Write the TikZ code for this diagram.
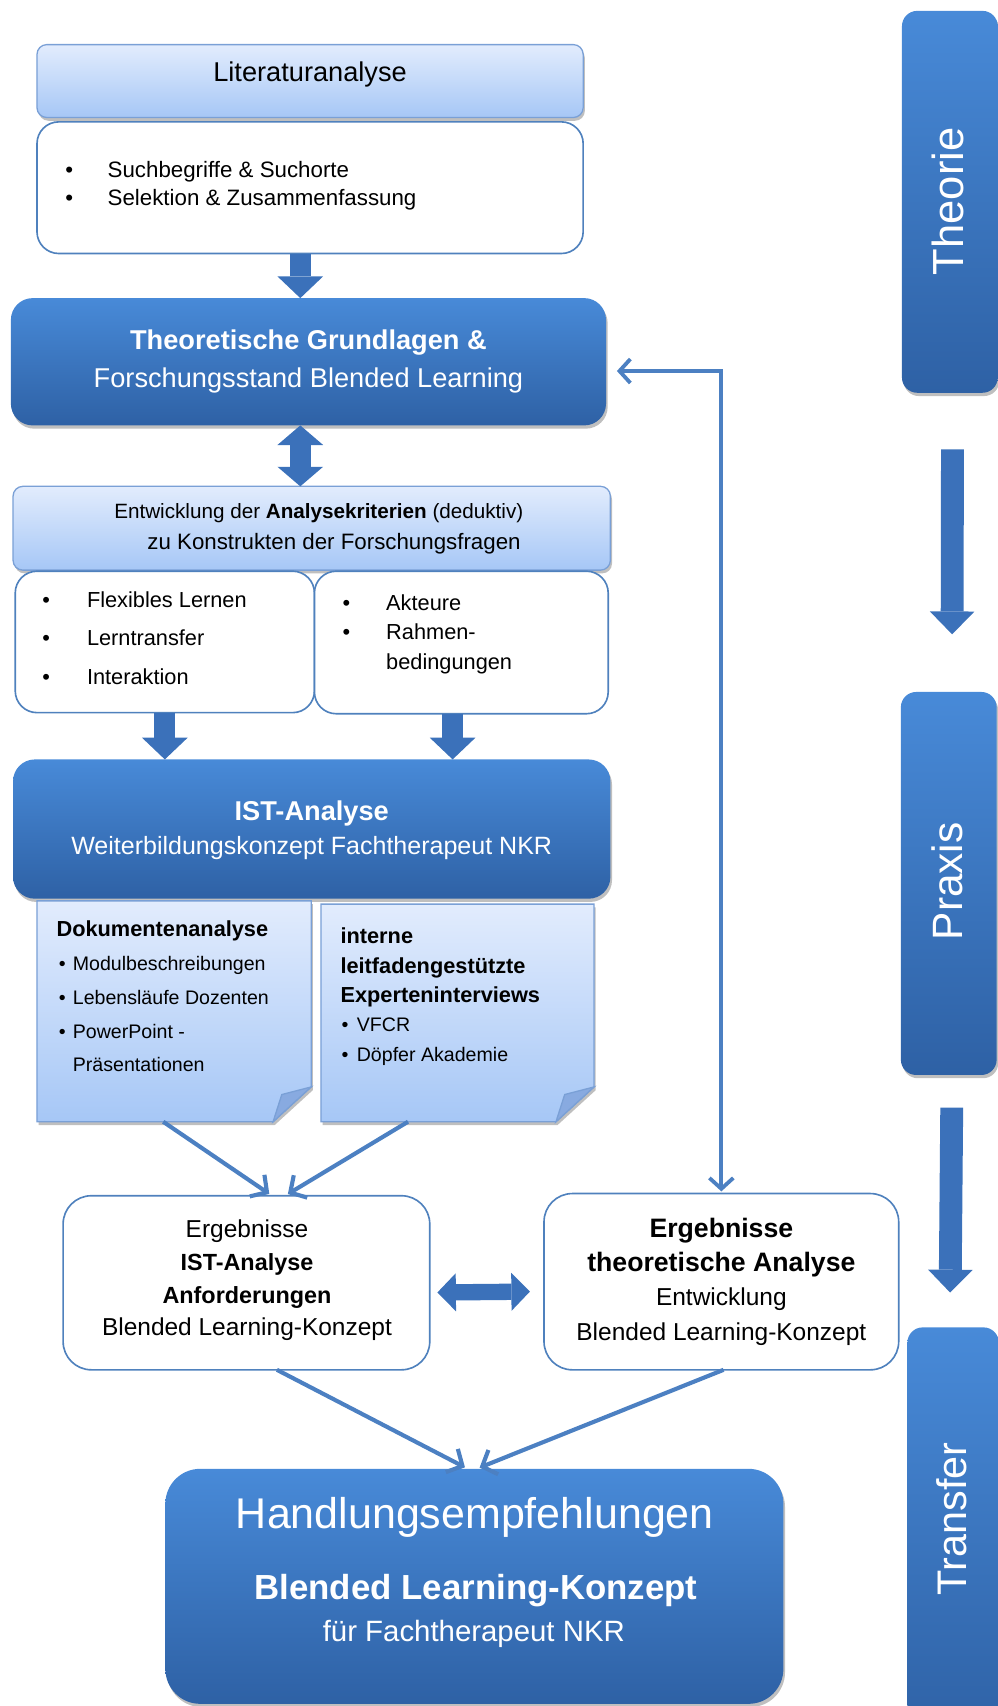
\documentclass[tikz,border=0pt]{standalone}
\usepackage{fontspec}
\setmainfont{Liberation Sans}
\usetikzlibrary{arrows.meta,calc,shadows}

\definecolor{darktop}{RGB}{72,138,216}
\definecolor{darkbot}{RGB}{46,97,165}
\definecolor{lighttop}{RGB}{226,236,253}
\definecolor{lightbot}{RGB}{166,199,246}
\definecolor{lightline}{RGB}{122,160,214}
\definecolor{whiteline}{RGB}{79,129,189}
\definecolor{arrowblue}{RGB}{59,113,186}
\definecolor{lineblue}{RGB}{76,128,194}
\definecolor{foldblue}{RGB}{136,170,224}

\newcommand\setfs[2]{\fontsize{#1}{#2}\selectfont}

\begin{document}
\begin{tikzpicture}[x=1pt,y=-1pt,
  frame/.style={anchor=north west,inner sep=0pt,outer sep=0pt},
  softshadow/.style={drop shadow={shadow xshift=1.5pt,shadow yshift=-3pt,fill=black,opacity=.25}},
  lightbox/.style={frame,rounded corners=9pt,draw=lightline,line width=1.2pt,top color=lighttop,bottom color=lightbot,softshadow},
  whitebox/.style={frame,rounded corners=20pt,draw=whiteline,line width=1.5pt,fill=white},
  darkbox/.style={frame,rounded corners=20pt,top color=darktop,bottom color=darkbot,softshadow},
  sidebox/.style={frame,rounded corners=14pt,top color=darktop,bottom color=darkbot,softshadow},
  noteshape/.style={draw=lightline,line width=1.2pt,top color=lighttop,bottom color=lightbot,softshadow},
  notefold/.style={draw=lightline,line width=1.2pt,fill=foldblue},
  txt/.style={inner sep=0pt,outer sep=0pt,text=black},
  wtxt/.style={txt,text=white},
  blockarrow/.style={draw=arrowblue,line width=19pt,-{Triangle[length=20pt,width=42pt,line width=0pt]}},
  blockboth/.style={draw=arrowblue,line width=19pt,{Triangle[length=18pt,width=42pt,line width=0pt]}-{Triangle[length=18pt,width=42pt,line width=0pt]}},
  sidearrow/.style={draw=arrowblue,line width=21pt,-{Triangle[length=21pt,width=41pt,line width=0pt]}},
  sideboth/.style={draw=arrowblue,line width=15pt,{Triangle[length=17pt,width=35pt,line width=0pt]}-{Triangle[length=17pt,width=35pt,line width=0pt]}},
  flowline/.style={draw=lineblue,line width=3.8pt,-{Straight Barb[length=11pt,width=24pt]}},
  flowboth/.style={draw=lineblue,line width=3.5pt,{Straight Barb[length=10pt,width=22pt]}-{Straight Barb[length=10pt,width=22pt]}},
]
\useasboundingbox (0,0) rectangle (917,1568);

% ---------- main column: boxes ----------
\node[lightbox,minimum width=502pt,minimum height=67pt] (lit) at (34,41) {};
\node[whitebox,minimum width=502pt,minimum height=121pt] (litList) at (34,112) {};
\node[darkbox,minimum width=547pt,minimum height=117pt] (theo) at (10,274) {};
\node[lightbox,minimum width=549pt,minimum height=77pt] (entw) at (12,447) {};
\node[whitebox,minimum width=275pt,minimum height=130pt] (crit1) at (14,525) {};
\node[whitebox,minimum width=270pt,minimum height=131pt] (crit2) at (289,525) {};
\node[darkbox,minimum width=549pt,minimum height=128pt] (ist) at (12,698) {};

% notes with a folded corner
\node[frame,minimum width=252pt,minimum height=203pt] (doc) at (34,828) {};
\node[frame,minimum width=251pt,minimum height=200pt] (int) at (295,831) {};
\foreach \n in {doc,int}{
  \path[noteshape] (\n.north west) -- (\n.north east) -- ($(\n.south east)+(0,-32)$)
    -- ($(\n.south east)+(-35,0)$) -- (\n.south west) -- cycle;
  \path[notefold] ($(\n.south east)+(0,-32)$) -- ($(\n.south east)+(-35,0)$)
    -- ($(\n.south east)+(-27,-25)$) -- cycle;
}

\node[whitebox,rounded corners=26pt,minimum width=337pt,minimum height=160pt] (ergIst) at (58,1099) {};
\node[whitebox,rounded corners=26pt,minimum width=326pt,minimum height=162pt] (ergTh) at (500,1097) {};
\node[darkbox,rounded corners=32pt,minimum width=568pt,minimum height=216pt] (hand) at (152,1350) {};

% ---------- side column ----------
\node[sidebox,minimum width=88pt,minimum height=351pt] (theorie) at (829,10) {};
\node[sidebox,minimum width=88pt,minimum height=352pt] (praxis) at (828,636) {};
\node[sidebox,minimum width=84pt,minimum height=380pt] (transfer) at (834,1220) {};

% ---------- texts ----------
\node[txt,font=\setfs{25}{30}] (litTxt) at (285,68) {Literaturanalyse};
\node[txt,anchor=west,align=left,font=\setfs{20.5}{26}] (litListTxt) at (60,171)
  {\makebox[39pt][l]{•}Suchbegriffe \& Suchorte\\\makebox[39pt][l]{•}Selektion \& Zusammenfassung};
\node[wtxt,align=center,font=\setfs{25}{35}] (theoTxt) at (283.5,332)
  {\textbf{Theoretische Grundlagen \&}\\Forschungsstand Blended Learning};
\node[txt,align=center,font=\setfs{19}{28}] (entwTxt) at (293,486)
  {Entwicklung der \textbf{Analysekriterien} (deduktiv)\\\hspace*{28pt}{\setfs{20.5}{28}zu Konstrukten der Forschungsfragen}};
\node[txt,anchor=west,align=left,font=\setfs{20}{35.5}] (crit1Txt) at (39,586.5)
  {\makebox[41pt][l]{•}Flexibles Lernen\\\makebox[41pt][l]{•}Lerntransfer\\\makebox[41pt][l]{•}Interaktion};
\node[txt,anchor=west,align=left,font=\setfs{20}{27.5}] (crit2Txt) at (315,583)
  {\makebox[40pt][l]{•}Akteure\\\makebox[40pt][l]{•}Rahmen-\\\hspace*{40pt}bedingungen};
\node[wtxt,align=center,font=\setfs{23}{32}] (istTxt) at (286.5,763)
  {{\setfs{25}{32}\bfseries IST-Analyse}\\Weiterbildungskonzept Fachtherapeut NKR};
\node[txt,anchor=west,align=left,font=\setfs{18}{31}] (docTxt) at (52,916)
  {{\setfs{20}{31}\bfseries Dokumentenanalyse}\\
   \hspace*{2pt}\makebox[13pt][l]{•}Modulbeschreibungen\\
   \hspace*{2pt}\makebox[13pt][l]{•}Lebensläufe Dozenten\\
   \hspace*{2pt}\makebox[13pt][l]{•}PowerPoint -\\
   \hspace*{15pt}Präsentationen};
\node[txt,anchor=west,align=left,font=\setfs{18}{27}] (intTxt) at (313,916)
  {{\setfs{20}{27}\bfseries interne}\\
   {\setfs{20}{27}\bfseries leitfadengestützte}\\
   {\setfs{20}{27}\bfseries Experteninterviews}\\
   \hspace*{1pt}\makebox[14pt][l]{•}VFCR\\
   \hspace*{1pt}\makebox[14pt][l]{•}Döpfer Akademie};
\node[txt,align=center,font=\setfs{22.5}{30}] (ergIstTxt) at (227,1177)
  {Ergebnisse\\{\setfs{21.5}{30}\bfseries IST-Analyse}\\{\setfs{21.5}{30}\bfseries Anforderungen}\\Blended Learning-Konzept};
\node[txt,align=center,font=\setfs{22.5}{31.5}] (ergThTxt) at (663,1178)
  {{\setfs{24.5}{31.5}\bfseries Ergebnisse}\\{\setfs{24.5}{31.5}\bfseries theoretische Analyse}\\Entwicklung\\Blended Learning-Konzept};
\node[wtxt,font=\setfs{39.5}{46}] (handTitle) at (436.5,1395) {Handlungsempfehlungen};
\node[wtxt,font=\setfs{32}{37}\bfseries] (handSub) at (437.5,1462) {Blended Learning-Konzept};
\node[wtxt,font=\setfs{27}{31}] (handFor) at (435.5,1502) {für Fachtherapeut NKR};

\node[wtxt,rotate=90,font=\setfs{40}{42}] (theorieTxt) at (871,185) {Theorie};
\node[wtxt,rotate=90,font=\setfs{39}{41}] (praxisTxt) at (871,810) {Praxis};
\node[wtxt,rotate=90,font=\setfs{38}{40}] (transferTxt) at (875,1396) {Transfer};

% ---------- block arrows ----------
\draw[blockarrow] ([xshift=-9pt]litList.south) -- ([xshift=-7.5pt]theo.north);
\draw[blockboth] ([xshift=-7.5pt]theo.south) -- ([xshift=-10.5pt]entw.north);
\draw[blockarrow] (crit1.south) -- (crit1.south |- ist.north);
\draw[blockarrow] ([xshift=-8pt]crit2.south) -- ([xshift=-8pt]crit2.south |- ist.north);
\draw[sideboth,shorten <=7pt,shorten >=13pt] ([yshift=-9pt]ergIst.east) -- ([yshift=-9pt]ergTh.west);

\draw[sidearrow,shorten <=52pt,shorten >=53pt] ([xshift=2.5pt]theorie.south) -- ([xshift=3pt]praxis.north);
\draw[sidearrow,shorten <=30pt,shorten >=32pt] ([xshift=3pt]praxis.south) -- ([xshift=-3pt]transfer.north);

% ---------- thin connectors ----------
\draw[flowline,shorten >=3pt] ([xshift=-10pt]doc.south) -- ([xshift=23.5pt]ergIst.north);
\draw[flowline,shorten >=3pt] ([xshift=-45.5pt]int.south) -- ([xshift=35.5pt]ergIst.north);
\draw[flowline,shorten >=3pt] ([xshift=28pt]ergIst.south) -- ([xshift=-6pt]hand.north);
\draw[flowline,shorten >=3pt] ([xshift=2pt]ergTh.south) -- ([xshift=2pt]hand.north);
\draw[flowboth,shorten <=10pt,shorten >=2pt] ([yshift=-8.5pt]theo.east) -| (ergTh.north);
\end{tikzpicture}
\end{document}
